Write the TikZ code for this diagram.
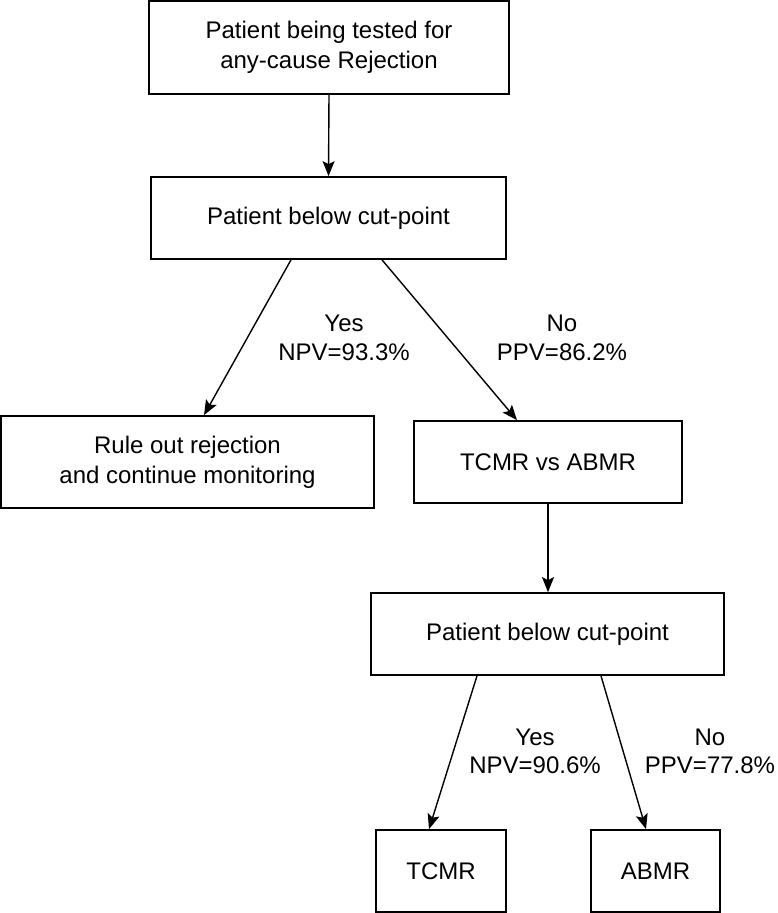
\documentclass[tikz,border=0pt]{standalone}
\usepackage{fontspec}
\setmainfont{Liberation Sans}
\usetikzlibrary{arrows.meta}
\tikzset{
  box/.style={draw=black, line width=1.7pt, fill=white, align=center, inner sep=0pt,
              font=\fontsize{24}{30}\selectfont},
  lbl/.style={anchor=base, inner sep=0pt, font=\fontsize{24}{30}\selectfont},
  arr/.style={line width=1.4pt, -{Stealth[length=15pt,width=12pt,inset=3pt]}}
}
\begin{document}
\begin{tikzpicture}[x=1pt,y=-1pt]
\useasboundingbox (0,0) rectangle (777,913);
\node[box, minimum width=360pt, minimum height=93pt] (b1) at (329,47.5) {Patient being tested for\\any-cause Rejection};
\node[box, minimum width=355pt, minimum height=82pt] (b2) at (328.5,218) {Patient below cut-point};
\node[box, minimum width=373pt, minimum height=92pt] (b3) at (187.5,462) {Rule out rejection\\and continue monitoring};
\node[box, minimum width=268pt, minimum height=82pt] (b4) at (548,462) {TCMR vs ABMR};
\node[box, minimum width=353pt, minimum height=82pt] (b5) at (547.5,634) {Patient below cut-point};
\node[box, minimum width=130pt, minimum height=82pt] (b6) at (441,871) {TCMR};
\node[box, minimum width=129pt, minimum height=82pt] (b7) at (655.5,871) {ABMR};

\draw[arr] (b1.south) -- (b2.north);
\draw[arr] ([xshift=-37.5pt]b2.south) -- ([xshift=16.5pt]b3.north);
\draw[arr] ([xshift=53.5pt]b2.south) -- ([xshift=-31pt]b4.north);
\draw[arr] (b4.south) -- (b4.south |- b5.north);
\draw[arr] ([xshift=-70.5pt]b5.south) -- ([xshift=-12pt]b6.north);
\draw[arr] ([xshift=53.5pt]b5.south) -- ([xshift=-9.5pt]b7.north);

\node[lbl] (l1a) at (344,331) {Yes};
\node[lbl] (l1b) at (344,360) {NPV=93.3\%};
\node[lbl] (l2a) at (562,331) {No};
\node[lbl] (l2b) at (562,360) {PPV=86.2\%};
\node[lbl] (l3a) at (535,745) {Yes};
\node[lbl] (l3b) at (535,773) {NPV=90.6\%};
\node[lbl] (l4a) at (710,745) {No};
\node[lbl] (l4b) at (710,773) {PPV=77.8\%};
\end{tikzpicture}
\end{document}
